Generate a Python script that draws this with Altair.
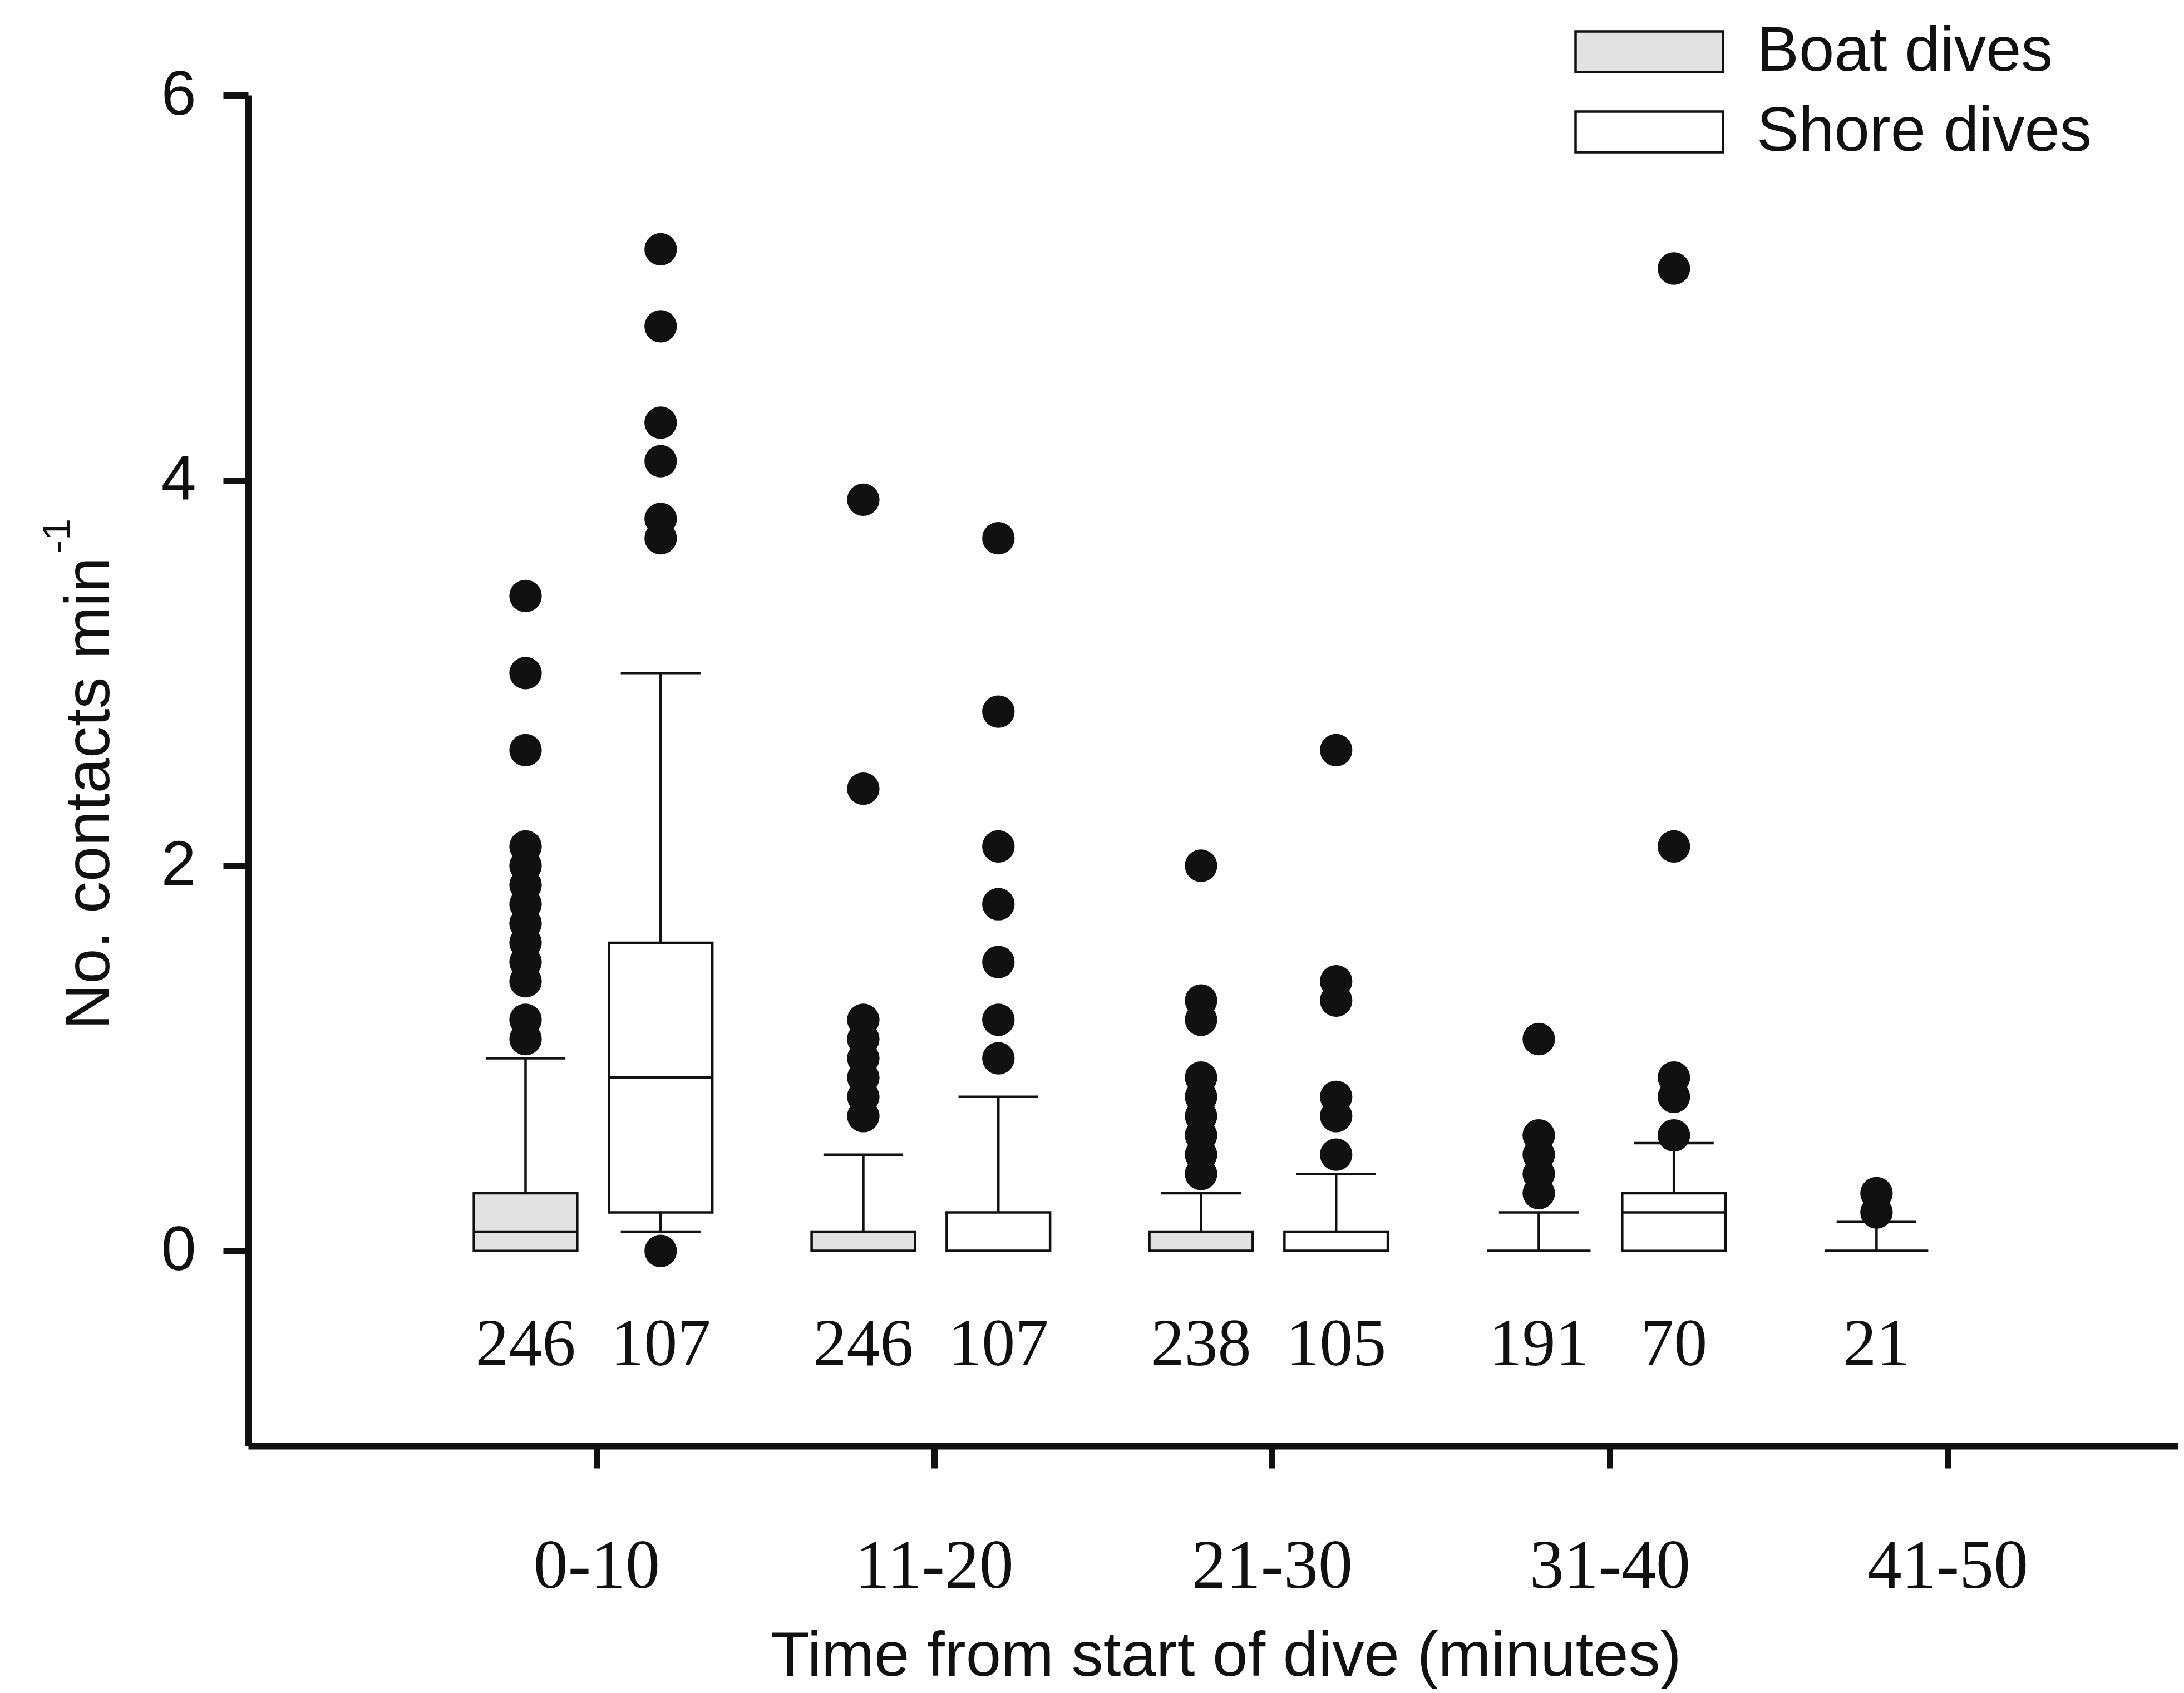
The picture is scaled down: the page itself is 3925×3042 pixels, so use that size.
import json
import altair as alt
import pandas as pd

# ---------------- data ----------------
categories = ["0-10", "11-20", "21-30", "31-40", "41-50"]
series_names = ["Boat dives", "Shore dives"]

boat_n = [246, 246, 238, 191, 21]
boat_q1 = [0.0, 0.0, 0.0, 0.0, 0.0]
boat_median = [0.1, 0.0, 0.0, 0.0, 0.0]
boat_q3 = [0.3, 0.1, 0.1, 0.0, 0.0]
boat_whisker_low = [0.0, 0.0, 0.0, 0.0, 0.0]
boat_whisker_high = [1.0, 0.5, 0.3, 0.2, 0.15]
boat_outliers = [
    [3.4, 3.0, 2.6, 2.1, 2.0, 1.9, 1.8, 1.7, 1.6, 1.5, 1.4, 1.2, 1.1],
    [3.9, 2.4, 1.2, 1.1, 1.0, 0.9, 0.8, 0.7],
    [2.0, 1.3, 1.2, 0.9, 0.8, 0.7, 0.6, 0.5, 0.4],
    [1.1, 0.6, 0.5, 0.4, 0.3],
    [0.3, 0.2],
]

shore_n = [107, 107, 105, 70]
shore_q1 = [0.2, 0.0, 0.0, 0.0]
shore_median = [0.9, 0.0, 0.0, 0.2]
shore_q3 = [1.6, 0.2, 0.1, 0.3]
shore_whisker_low = [0.1, 0.0, 0.0, 0.0]
shore_whisker_high = [3.0, 0.8, 0.4, 0.56]
shore_outliers = [
    [5.2, 4.8, 4.3, 4.1, 3.8, 3.7, 0.0],
    [3.7, 2.8, 2.1, 1.8, 1.5, 1.2, 1.0],
    [2.6, 1.4, 1.3, 0.8, 0.7, 0.5],
    [5.1, 2.1, 0.9, 0.8, 0.6],
]

y_ticks = [0, 2, 4, 6]
superscript = ["-1"]

# ---------------- layout / style ----------------
INK = "#111111"
BOAT_FILL = "#e2e2e2"
SANS = "Liberation Sans"
SERIF = "Liberation Serif"
OFFSET = {"Boat dives": -0.21, "Shore dives": 0.19}
BOX_HALF = 0.153
CAP_HALF = 0.118
LW = 4.5

# ---------------- tables ----------------
box_rows, out_rows = [], []
series_data = [
    ("Boat dives", boat_n, boat_q1, boat_median, boat_q3, boat_whisker_low, boat_whisker_high, boat_outliers),
    ("Shore dives", shore_n, shore_q1, shore_median, shore_q3, shore_whisker_low, shore_whisker_high, shore_outliers),
]
for name, ns, q1s, meds, q3s, los, his, outs in series_data:
    for i in range(len(ns)):
        pos = i + 1 + OFFSET[name]
        box_rows.append(dict(category=categories[i], series=name, pos=pos,
                             x_lo=pos - BOX_HALF, x_hi=pos + BOX_HALF,
                             cap_lo=pos - CAP_HALF, cap_hi=pos + CAP_HALF,
                             q1=q1s[i], median=meds[i], q3=q3s[i],
                             lo=los[i], hi=his[i], n=str(ns[i])))
        for v in outs[i]:
            out_rows.append(dict(category=categories[i], series=name, pos=pos, value=v))

box_df = pd.DataFrame(box_rows)
out_df = pd.DataFrame(out_rows)
upper_df = box_df[box_df["hi"] > box_df["q3"]]
lower_df = box_df[box_df["lo"] < box_df["q1"]]

# ---------------- scales / axes ----------------
x_scale = alt.Scale(domain=[-0.0313, 5.684], nice=False, zero=False)
y_scale = alt.Scale(domain=[-1.012, 6], nice=False, zero=False)

label_expr = json.dumps(categories) + "[datum.value - 1]"
x_axis = alt.Axis(
    values=[1, 2, 3, 4, 5], labelExpr=label_expr, grid=False,
    title="Time from start of dive (minutes)",
    titleFont=SANS, titleFontSize=114, titleFontWeight="normal", titleColor=INK,
    titleX=1757, titleY=412, titleAlign="center", titleBaseline="alphabetic",
    titleLimit=5000,
    labelFont=SERIF, labelFontSize=124, labelColor=INK, labelBaseline="middle",
    labelPadding=177, labelFlush=False, labelOverlap=False, labelLimit=2000,
    tickSize=40, tickWidth=11, tickColor=INK,
    domainWidth=12, domainColor=INK,
)
y_axis = alt.Axis(
    values=y_ticks, format="d", grid=False,
    title="No. contacts min",
    titleFont=SANS, titleFontSize=114, titleFontWeight="normal", titleColor=INK,
    titleAngle=270, titleX=-251, titleY=1254, titleAlign="center", titleBaseline="alphabetic",
    titleLimit=5000,
    labelFont=SANS, labelFontSize=113, labelColor=INK, labelPadding=49, labelLimit=2000,
    tickSize=45, tickWidth=11, tickColor=INK,
    domainWidth=12, domainColor=INK,
)


def X(field):
    return alt.X(f"{field}:Q", scale=x_scale, axis=x_axis)


def Y(field):
    return alt.Y(f"{field}:Q", scale=y_scale, axis=y_axis)


legend = alt.Legend(
    title=None, orient="none", legendX=2383, legendY=-135, padding=0,
    symbolType="M-1,-0.275H1V0.275H-1Z", symbolSize=70225,
    symbolStrokeColor=INK, symbolStrokeWidth=LW,
    labelFont=SANS, labelFontSize=114, labelColor=INK, labelOffset=58,
    labelLimit=3000, clipHeight=114, rowPadding=30,
)

boxes = alt.Chart(box_df).mark_rect(stroke=INK, strokeWidth=LW).encode(
    x=X("x_lo"), x2="x_hi", y=Y("q1"), y2="q3",
    fill=alt.Fill("series:N", scale=alt.Scale(domain=series_names, range=[BOAT_FILL, "#ffffff"]),
                  legend=legend),
)
medians = alt.Chart(box_df).mark_rule(color=INK, strokeWidth=LW).encode(
    x=X("x_lo"), x2="x_hi", y=Y("median"))
up_whisk = alt.Chart(upper_df).mark_rule(color=INK, strokeWidth=LW).encode(
    x=X("pos"), y=Y("q3"), y2="hi")
up_cap = alt.Chart(upper_df).mark_rule(color=INK, strokeWidth=LW).encode(
    x=X("cap_lo"), x2="cap_hi", y=Y("hi"))
lo_whisk = alt.Chart(lower_df).mark_rule(color=INK, strokeWidth=LW).encode(
    x=X("pos"), y=Y("lo"), y2="q1")
lo_cap = alt.Chart(lower_df).mark_rule(color=INK, strokeWidth=LW).encode(
    x=X("cap_lo"), x2="cap_hi", y=Y("lo"))
outliers = alt.Chart(out_df).mark_circle(color=INK, size=3400, opacity=1).encode(
    x=X("pos"), y=Y("value"))
counts = alt.Chart(box_df).mark_text(font=SERIF, fontSize=120, color=INK,
                                     baseline="middle", align="center").encode(
    x=X("pos"), y=alt.Y(datum=-0.49, scale=y_scale, axis=y_axis), text="n:N")
sup = alt.Chart(pd.DataFrame({"t": superscript})).mark_text(
    font=SANS, fontSize=70, color=INK, angle=270, align="center", baseline="alphabetic"
).encode(x=alt.value(-320), y=alt.value(792), text="t:N")

chart = alt.layer(boxes, medians, up_whisk, up_cap, lo_whisk, lo_cap, outliers, counts, sup).properties(
    width=3469, height=2427,
    padding={"left": 438, "top": 163, "right": 0, "bottom": 440},
    autosize=alt.AutoSizeParams(type="none"),
    background="white",
).configure_view(stroke=None)

chart.save("out.html", embed_options={"renderer": "svg", "actions": False})
